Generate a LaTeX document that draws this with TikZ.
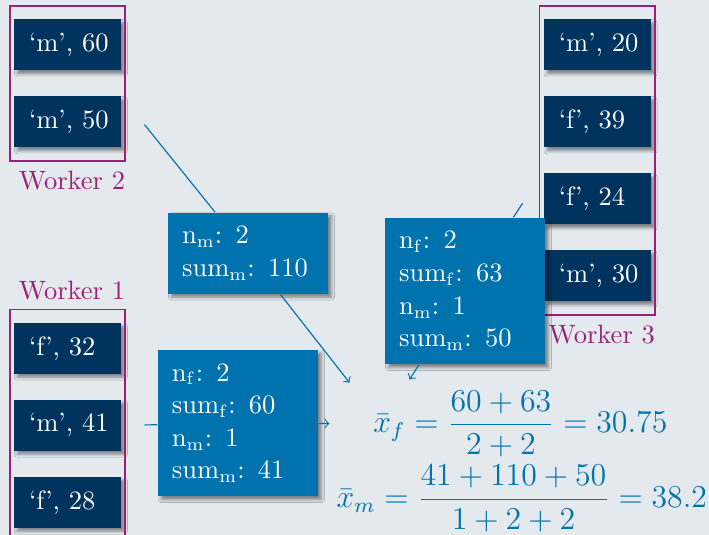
\documentclass[tikz,border=0pt]{standalone}
\usepackage{amsmath}
\usetikzlibrary{positioning, fit, shadows.blur}
\definecolor{bgpale}{HTML}{E4E9EE}
\definecolor{snavy}{HTML}{00345F}
\definecolor{sblue}{HTML}{0072AD}
\definecolor{wmag}{HTML}{9B2177}
\tikzset{
  >=to,
  font=\fontsize{10.4}{12.5}\selectfont,
  record/.style={
    fill=snavy, text=white, align=left, text width=1.06cm,
    inner xsep=0.207cm, minimum height=0.703cm,
    blur shadow={shadow xshift=1.3pt, shadow yshift=-1.3pt,
      shadow blur radius=1.2pt, shadow opacity=45}
  },
  worker/.style={draw=wmag, line width=0.5pt, inner xsep=0.05cm, inner ysep=0.18cm},
  wlabel/.style={text=wmag, inner xsep=0pt},
  partial/.style={
    fill=sblue, text=white, align=left, text width=1.82cm,
    inner xsep=0.193cm, inner ysep=5.3pt, font=\fontsize{10.4}{12.8}\selectfont,
    blur shadow={shadow xshift=1.3pt, shadow yshift=-1.3pt,
      shadow blur radius=1.2pt, shadow opacity=45}
  },
  link/.style={draw=sblue, line width=0.45pt},
  flow/.style={->, draw=sblue, line width=0.45pt, shorten >=0.72cm},
  eq/.style={text=sblue, font=\large, scale=1.04, transform shape}
}

\begin{document}
\begin{tikzpicture}
  \useasboundingbox (0,0) rectangle (9.77,7.37);
  \fill[bgpale] (0,0) rectangle (9.77,7.37);

  % worker 2
  \node[record] (w2a) at (0.93,6.75) {‘m’,~60};
  \node[record,below=0.344cm of w2a] (w2b) {‘m’,~50};
  \node[worker,fit=(w2a)(w2b)] (wk2) {};
  \node[wlabel,anchor=north east] (lab2) at (wk2.south east) {Worker 2};
  \node[fit=(wk2)(lab2),inner sep=0pt] (grp2) {};

  % worker 1
  \node[record] (w1a) at (0.93,2.57) {‘f’,~32};
  \node[record,below=0.344cm of w1a] (w1b) {‘m’,~41};
  \node[record,below=0.344cm of w1b] (w1c) {‘f’,~28};
  \node[worker,fit=(w1a)(w1c)] (wk1) {};
  \node[wlabel,anchor=south east] (lab1) at (wk1.north east) {Worker 1};

  % worker 3
  \node[record] (w3a) at (8.23,6.75) {‘m’,~20};
  \node[record,below=0.344cm of w3a] (w3b) {‘f’,~39};
  \node[record,below=0.344cm of w3b] (w3c) {‘f’,~24};
  \node[record,below=0.344cm of w3c] (w3d) {‘m’,~30};
  \node[worker,fit=(w3a)(w3d)] (wk3) {};
  \node[wlabel,anchor=north east] (lab3) at (wk3.south east) {Worker 3};
  \node[fit=(wk3)(lab3),inner sep=0pt] (grp3) {};

  % partial sums
  \node[partial] (p2) at (3.42,3.88)
    {n$_\mathrm{m}$:\enspace 2\\ sum$_\mathrm{m}$:\enspace 110};
  \node[partial] (p3) at (6.41,3.36)
    {n$_\mathrm{f}$:\enspace 2\\ sum$_\mathrm{f}$:\enspace 63\\
     n$_\mathrm{m}$:\enspace 1\\ sum$_\mathrm{m}$:\enspace 50};
  \node[partial] (p1) at (3.28,1.54)
    {n$_\mathrm{f}$:\enspace 2\\ sum$_\mathrm{f}$:\enspace 60\\
     n$_\mathrm{m}$:\enspace 1\\ sum$_\mathrm{m}$:\enspace 41};

  % result
  \node[eq] (xf) at (7.17,1.53)
    {$\displaystyle \bar{x}_f = \frac{60+63}{2+2} = 30.75$};
  \node[eq] (xm) at (7.19,0.50)
    {$\displaystyle \bar{x}_m = \frac{41+110+50}{1+2+2} = 38.2$};
  \coordinate (reduce) at (5.26,1.53);

  \draw[link,shorten <=0.26cm] (wk1.east) -- (p1);
  \draw[flow] (p1) -- (reduce);
  \draw[link,shorten <=0.4cm] (grp2.east) -- (p2);
  \draw[flow] (p2) -- (reduce);
  \draw[link,shorten <=0.4cm] (grp3.west) -- (p3);
  \draw[flow] (p3) -- (reduce);
\end{tikzpicture}
\end{document}
